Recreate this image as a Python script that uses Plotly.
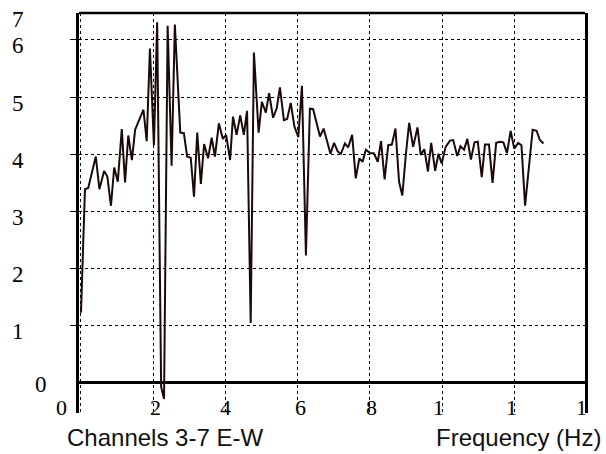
import plotly.graph_objects as go

# ---- data ----
freq_hz = [0.00, 0.11, 0.20, 0.41, 0.51, 0.64, 0.73, 0.83, 0.92, 1.02,
           1.13, 1.22, 1.31, 1.41, 1.50, 1.59, 1.73, 1.82, 1.91, 2.02,
           2.11, 2.22, 2.30, 2.40, 2.51, 2.60, 2.75, 2.85, 2.94, 3.04,
           3.13, 3.22, 3.32, 3.41, 3.52, 3.62, 3.71, 3.82, 3.93, 4.02,
           4.13, 4.21, 4.31, 4.41, 4.51, 4.60, 4.70, 4.79, 4.92, 5.01,
           5.12, 5.21, 5.32, 5.42, 5.51, 5.62, 5.71, 5.81, 5.91, 6.02,
           6.12, 6.23, 6.34, 6.43, 6.53, 6.62, 6.72, 6.81, 6.91, 7.01,
           7.11, 7.20, 7.31, 7.40, 7.51, 7.61, 7.71, 7.80, 7.89, 8.01,
           8.11, 8.22, 8.31, 8.41, 8.51, 8.61, 8.71, 8.81, 8.90, 9.00,
           9.09, 9.20, 9.32, 9.41, 9.51, 9.61, 9.70, 9.81, 9.90, 9.99,
           10.10, 10.22, 10.31, 10.42, 10.51, 10.61, 10.70, 10.80, 10.90, 10.99,
           11.10, 11.19, 11.30, 11.40, 11.50, 11.61, 11.70, 11.80, 11.90, 12.00,
           12.11, 12.20, 12.30, 12.51, 12.62, 12.71, 12.81]
amplitude = [1.23, 3.39, 3.41, 3.96, 3.39, 3.71, 3.61, 3.10, 3.77, 3.52,
             4.44, 3.51, 4.33, 3.90, 4.43, 4.57, 4.78, 4.23, 5.85, 4.16,
             6.31, -0.07, -0.28, 6.25, 3.80, 6.27, 4.38, 4.37, 3.96, 3.94,
             3.26, 4.38, 3.48, 4.18, 3.93, 4.29, 3.96, 4.54, 4.27, 4.34,
             3.90, 4.66, 4.34, 4.68, 4.34, 4.76, 1.05, 5.78, 4.38, 4.92,
             4.73, 5.07, 4.64, 4.80, 5.17, 4.60, 4.62, 4.90, 4.49, 4.30,
             5.20, 2.23, 4.80, 4.79, 4.51, 4.31, 4.45, 4.25, 4.01, 4.20,
             4.05, 4.01, 4.19, 4.12, 4.34, 3.58, 3.93, 3.87, 4.08, 4.02,
             4.02, 3.87, 4.23, 3.56, 4.16, 4.17, 4.45, 3.52, 3.28, 4.01,
             4.55, 4.13, 4.47, 3.99, 4.09, 3.70, 4.20, 3.71, 4.01, 3.84,
             4.13, 4.24, 4.25, 3.97, 4.14, 4.08, 4.27, 3.91, 4.21, 4.22,
             3.60, 4.17, 4.17, 3.50, 4.20, 4.22, 4.21, 4.02, 4.41, 4.10,
             4.20, 4.16, 3.10, 4.43, 4.41, 4.25, 4.19]

x_tick_vals = [0, 2, 4, 6, 8, 10, 12, 14]
x_tick_text = ["0", "2", "4", "6", "8", "1", "1", "1"]
y_tick_vals = [0, 1, 2, 3, 4, 5, 6]
y_tick_text = ["0", "1", "2", "3", "4", "5", "6"]
y_top_label = "7"
left_title = "Channels 3-7 E-W"
right_title = "Frequency (Hz)"

SERIF = "Liberation Serif, Times New Roman, serif"
SANS = "Liberation Sans, Arial, sans-serif"

X_RANGE = [-0.055, 13.96]

fig = go.Figure()
fig.add_trace(go.Scatter(x=freq_hz, y=amplitude, mode="lines",
                         line=dict(color="#1c0a0a", width=2),
                         showlegend=False, hoverinfo="skip"))

fig.update_layout(
    width=606, height=454,
    margin=dict(l=79, r=21, t=13, b=41),
    paper_bgcolor="white", plot_bgcolor="white",
    xaxis=dict(range=X_RANGE, tickvals=x_tick_vals[:-1],
               showticklabels=False, showgrid=True, gridcolor="black",
               griddash="dot", gridwidth=1, zeroline=False, showline=False,
               ticks=""),
    yaxis=dict(range=[-0.525, 6.472], tickvals=y_tick_vals[1:],
               showticklabels=False, showgrid=True, gridcolor="black",
               griddash="dot", gridwidth=1, zeroline=True,
               zerolinecolor="black", zerolinewidth=2.5,
               showline=True, linecolor="black", linewidth=2.5, mirror=True,
               ticks="outside", ticklen=6, tickwidth=1.2, tickcolor="black"),
)

# top frame line
fig.add_shape(type="line", xref="paper", yref="paper", x0=0, x1=1, y0=1, y1=1,
              line=dict(color="black", width=2.5))

annotations = []
# y tick labels
for v, t in zip(y_tick_vals, y_tick_text):
    if v == 0:
        annotations.append(dict(x=-0.075, xref="paper", y=v, yref="y", text=t,
                                showarrow=False, xanchor="center", yanchor="middle",
                                yshift=-2, font=dict(family=SERIF, size=23, color="black")))
    else:
        annotations.append(dict(x=-0.1206, xref="paper", y=v, yref="y", text=t,
                                showarrow=False, xanchor="center", yanchor="middle",
                                yshift=-6, font=dict(family=SERIF, size=23, color="black")))
annotations.append(dict(x=-0.1206, xref="paper", y=0.9825, yref="paper", text=y_top_label,
                        showarrow=False, xanchor="center", yanchor="middle",
                        font=dict(family=SERIF, size=23, color="black")))
# x tick labels (positioned in paper units computed from the axis range)
x_shifts = [-19, 2, 0, 3, 2, -4, -3, -5]
span = X_RANGE[1] - X_RANGE[0]
for v, t, s in zip(x_tick_vals, x_tick_text, x_shifts):
    annotations.append(dict(x=(v - X_RANGE[0]) / span, xref="paper", y=0.015, yref="paper",
                            text=t, showarrow=False, xanchor="center", yanchor="middle",
                            xshift=s, font=dict(family=SERIF, size=22, color="black")))
# titles
annotations.append(dict(x=-0.0277, xref="paper", y=-0.06, yref="paper", text=left_title,
                        showarrow=False, xanchor="left", yanchor="middle",
                        font=dict(family=SANS, size=24, color="#111")))
annotations.append(dict(x=1.0356, xref="paper", y=-0.06, yref="paper", text=right_title,
                        showarrow=False, xanchor="right", yanchor="middle",
                        font=dict(family=SANS, size=24, color="#111")))
fig.update_layout(annotations=annotations)

fig.write_html("out.html", config={"displayModeBar": False},
               post_script="document.body.style.margin='0';document.body.style.padding='0';")
